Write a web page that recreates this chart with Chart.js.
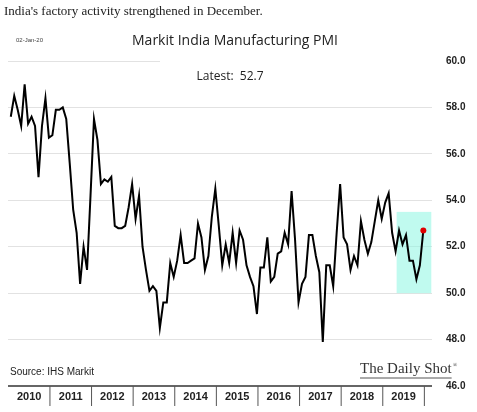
<!DOCTYPE html>
<html>
<head>
<meta charset="utf-8">
<script src="https://cdn.jsdelivr.net/npm/chart.js@4"></script>
<style>
  body { margin: 0; background: #fff; }
  #wrap { position: relative; width: 477px; height: 412px; }
  #headline { position: absolute; left: 4px; top: 3px; font: 13px "Liberation Serif", serif; color: #222; }
</style>
</head>
<body>
<div id="wrap">
  <div id="headline">India's factory activity strengthened in December.</div>
  <canvas id="pmiChart" width="477" height="412"></canvas>
</div>
<script>
// Monthly PMI, Jan 2010 .. Dec 2019
const years = ['2010', '2011', '2012', '2013', '2014', '2015', '2016', '2017', '2018', '2019'];
const pmi = [
    57.6, 58.5, 57.9, 57.2, 59.0, 57.3, 57.6, 57.2, 55.0, 57.2, 58.4, 56.7,
    56.8, 57.9, 57.9, 58.0, 57.5, 55.6, 53.6, 52.6, 50.4, 52.0, 51.0, 54.2,
    57.5, 56.6, 54.7, 54.9, 54.8, 55.0, 52.9, 52.8, 52.8, 52.9, 53.7, 54.7,
    53.2, 54.2, 52.0, 51.0, 50.1, 50.3, 50.1, 48.5, 49.6, 49.6, 51.3, 50.7,
    51.4, 52.5, 51.3, 51.3, 51.4, 51.5, 53.0, 52.4, 51.0, 51.6, 53.3, 54.5,
    52.9, 51.2, 52.1, 51.3, 52.6, 51.3, 52.7, 52.3, 51.2, 50.7, 50.3, 49.1,
    51.1, 51.1, 52.4, 50.5, 50.7, 51.7, 51.8, 52.6, 52.1, 54.4, 52.3, 49.6,
    50.4, 50.7, 52.5, 52.5, 51.6, 50.9, 47.9, 51.2, 51.2, 50.3, 52.6, 54.7,
    52.4, 52.1, 51.0, 51.6, 51.2, 53.1, 52.3, 51.7, 52.2, 53.1, 54.0, 53.2,
    53.9, 54.3, 52.6, 51.8, 52.7, 52.1, 52.5, 51.4, 51.4, 50.6, 51.2, 52.7
];
const yTicks = [46, 48, 50, 52, 54, 56, 58, 60];
const highlight = { xFrom: 111.3, xTo: 121.3, yFrom: 50, yTo: 53.5 };

const points = pmi.map(function(v, i) { return { x: i, y: v }; });
const last = pmi.length - 1;

const decorations = {
    id: 'decorations',
    beforeDatasetsDraw(chart) {
        const { ctx, scales: { x, y } } = chart;
        ctx.save();
        ctx.fillStyle = 'rgba(140, 245, 225, 0.55)';
        ctx.fillRect(x.getPixelForValue(highlight.xFrom), y.getPixelForValue(highlight.yTo),
            x.getPixelForValue(highlight.xTo) - x.getPixelForValue(highlight.xFrom),
            y.getPixelForValue(highlight.yFrom) - y.getPixelForValue(highlight.yTo));
        // hide the top gridline behind the title
        ctx.fillStyle = '#fff';
        ctx.fillRect(160, y.getPixelForValue(60) - 2, x.right - 160, 4);
        ctx.restore();
    },
    afterDraw(chart) {
        const { ctx, chartArea, scales: { x, y } } = chart;
        ctx.save();
        const base = y.getPixelForValue(46);
        ctx.strokeStyle = '#333';
        ctx.lineWidth = 1.5;
        ctx.beginPath();
        ctx.moveTo(chartArea.left, base);
        ctx.lineTo(chartArea.right, base);
        ctx.stroke();
        ctx.font = 'bold 11px "Liberation Sans", Arial, sans-serif';
        ctx.fillStyle = '#222';
        ctx.textAlign = 'center';
        ctx.textBaseline = 'middle';
        years.forEach(function(yr, k) {
            const x0 = x.getPixelForValue(12 * k - 0.7);
            const x1 = x.getPixelForValue(12 * k + 11.3);
            ctx.fillText(yr, (x0 + x1) / 2, base + 11);
            ctx.lineWidth = 1;
            ctx.strokeStyle = '#555';
            ctx.beginPath();
            ctx.moveTo(x1, base);
            ctx.lineTo(x1, base + 20);
            ctx.stroke();
        });
        ctx.textAlign = 'left';
        ctx.font = '6px "Liberation Sans", Arial, sans-serif';
        ctx.fillStyle = '#444';
        ctx.fillText('02-Jan-20', 16, 40);
        ctx.font = '14px "Open Sans", sans-serif';
        ctx.fillStyle = '#222';
        ctx.textAlign = 'center';
        ctx.fillText('Markit India Manufacturing PMI', 235, 41);
        ctx.font = '12px "Open Sans", sans-serif';
        ctx.fillText('Latest:  ' + pmi[last].toFixed(1), 230, 77);
        ctx.textAlign = 'left';
        ctx.font = '10px "Liberation Sans", Arial, sans-serif';
        ctx.fillText('Source: IHS Markit', 10, 372);
        ctx.font = '15px "Liberation Serif", serif';
        ctx.fillStyle = '#333';
        ctx.fillText('The Daily Shot', 360, 369);
        const w = ctx.measureText('The Daily Shot').width;
        ctx.font = '6px "Liberation Serif", serif';
        ctx.fillText('®', 360 + w + 1, 365);
        ctx.lineWidth = 1;
        ctx.beginPath();
        ctx.moveTo(360, 378);
        ctx.lineTo(360 + w, 378);
        ctx.stroke();
        ctx.restore();
    }
};

new Chart(document.getElementById('pmiChart').getContext('2d'), {
    type: 'line',
    data: {
        datasets: [{
            data: points,
            borderColor: '#000',
            borderWidth: 2,
            tension: 0,
            pointRadius: pmi.map(function(v, i) { return i === last ? 3 : 0; }),
            pointBackgroundColor: '#e00000',
            pointBorderWidth: 0
        }]
    },
    options: {
        responsive: false,
        animation: false,
        layout: { padding: { left: 8, top: 61, bottom: 26, right: 0 } },
        plugins: { legend: { display: false }, tooltip: { enabled: false } },
        scales: {
            x: {
                type: 'linear',
                display: false,
                min: -0.8,
                max: 121.5
            },
            y: {
                position: 'right',
                min: 46,
                max: 60,
                afterBuildTicks: function(scale) { scale.ticks = yTicks.map(function(v) { return { value: v }; }); },
                afterFit: function(scale) { scale.width = 45; },
                border: { display: false },
                grid: {
                    color: function(c) { return c.tick.value === 46 ? 'rgba(0,0,0,0)' : '#e2e2e2'; },
                    drawTicks: false
                },
                ticks: {
                    padding: 14,
                    color: '#222',
                    font: { family: '"Liberation Sans", Arial, sans-serif', size: 10, weight: 'bold' },
                    callback: function(v) { return Number(v).toFixed(1); }
                }
            }
        }
    },
    plugins: [decorations]
});
</script>
</body>
</html>
